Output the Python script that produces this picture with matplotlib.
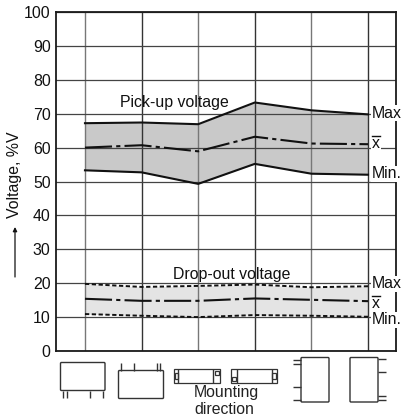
#! /usr/bin/env python3

import matplotlib
matplotlib.use('Agg')
import matplotlib.pyplot as plt
from matplotlib.patches import FancyBboxPatch, Rectangle

plt.rcParams['font.family'] = ['Liberation Sans', 'DejaVu Sans']
plt.rcParams['font.size'] = 11.4

# mounting positions
positions = [0, 1, 2, 3, 4, 5]
y_ticks = [0, 10, 20, 30, 40, 50, 60, 70, 80, 90, 100]

pickup_max = [67.2, 67.4, 66.9, 73.3, 71.0, 69.8]
pickup_mean = [60.0, 60.7, 58.9, 63.2, 61.2, 61.0]
pickup_min = [53.3, 52.7, 49.3, 55.2, 52.3, 52.0]

dropout_max = [19.8, 18.9, 19.2, 19.6, 18.8, 19.1]
dropout_mean = [15.4, 14.8, 14.8, 15.5, 15.1, 14.7]
dropout_min = [10.9, 10.4, 10.0, 10.6, 10.4, 10.1]

W, H = 403, 418
L, R, T, B = 55.5, 396, 12, 351

fig = plt.figure(figsize=(W / 100, H / 100), dpi=100)
ax = fig.add_axes([L / W, 1 - B / H, (R - L) / W, (B - T) / H])
ax.set_xlim(-29.5 / 56.67, 5 + 28 / 56.67)
ax.set_ylim(0, 100)
ax.set_xticks(positions)
ax.set_xticklabels([])
ax.set_yticks(y_ticks)
ax.tick_params(length=0, pad=3.5, labelcolor='#111111')
for s in ax.spines.values():
    s.set_linewidth(1.3)
    s.set_color('#1a1a1a')
ax.grid(axis='y', color='#444444', lw=0.9, zorder=1)
for i, p in enumerate(positions):
    ax.axvline(p, color='#777777' if i % 2 == 0 else '#333333', lw=1.0, zorder=1)

ax.fill_between(positions, pickup_min, pickup_max, color='#c9c9c9', zorder=0.5, lw=0)
ax.fill_between(positions, dropout_min, dropout_max, color='#e4e4e4', zorder=0.5, lw=0)

ax.plot(positions, pickup_max, color='#111111', lw=1.5, zorder=3)
ax.plot(positions, pickup_min, color='#111111', lw=1.5, zorder=3)
ax.plot(positions, pickup_mean, color='#111111', lw=1.5, zorder=3,
        dashes=(13, 2, 2, 2))
ax.plot(positions, dropout_max, color='#111111', lw=1.4, zorder=3, dashes=(2.2, 1.3))
ax.plot(positions, dropout_min, color='#111111', lw=1.4, zorder=3, dashes=(2.2, 1.3))
ax.plot(positions, dropout_mean, color='#111111', lw=1.5, zorder=3,
        dashes=(13, 2, 2, 2))

# overlay in pixel coordinates for labels and the relay sketches
ov = fig.add_axes([0, 0, 1, 1], facecolor='none')
ov.set_xlim(0, W)
ov.set_ylim(H, 0)
ov.axis('off')

tc = '#111111'
bg = dict(facecolor='white', edgecolor='none', pad=0.5)
ov.text(174.5, 103, 'Pick-up voltage', ha='center', va='center', color=tc)
ov.text(232, 274, 'Drop-out voltage', ha='center', va='center', color=tc)
for y, s in [(113, 'Max'), (174, 'Min.'), (284, 'Max'), (320, 'Min.')]:
    ov.text(372, y, s, ha='left', va='center', color=tc, bbox=bg)
for y in (143, 303):
    ov.text(372, y, 'x', ha='left', va='center', color=tc, bbox=bg)
    ov.plot([372, 380], [y - 7, y - 7], color=tc, lw=1.0, zorder=5)

ov.text(15, 175, 'Voltage, %V', rotation=90, ha='center', va='center', color=tc)
ov.annotate('', xy=(15, 227), xytext=(15, 277),
            arrowprops=dict(arrowstyle='-|>', color=tc, lw=0.9, mutation_scale=6,
                            shrinkA=0, shrinkB=0))

ov.text(226.5, 393, 'Mounting', ha='center', va='center', color='#222222')
ov.text(224, 409, 'direction', ha='center', va='center', color='#222222')

c = '#333333'


def box(x0, y0, x1, y1):
    ov.add_patch(FancyBboxPatch((x0 + 1, y0 + 1), x1 - x0 - 2, y1 - y0 - 2,
                                boxstyle='round,pad=1,rounding_size=1',
                                fill=False, ec=c, lw=1.0))


def small(x0, y0, x1, y1):
    ov.add_patch(Rectangle((x0, y0), x1 - x0, y1 - y0, fill=False, ec=c, lw=0.9))


def seg(x0, y0, x1, y1):
    ov.plot([x0, x1], [y0, y1], color=c, lw=1.0, solid_capstyle='butt')


# relay 1, pins down
box(60.5, 362.5, 105, 390.5)
for x in (62.5, 66.5, 90, 103):
    seg(x, 390.5, x, 398)
# relay 2, pins up
box(118.5, 370.5, 163.5, 398.5)
for x in (120.5, 133.5, 157, 160):
    seg(x, 370.5, x, 363)
# relay 3, flat
small(174, 369, 220, 382.5)
seg(178, 369, 178, 382.5)
seg(213, 369, 213, 382.5)
small(175, 373, 178, 379)
small(214.5, 370.5, 218.5, 374.5)
# relay 4, flat
small(230.5, 369, 276.5, 382.5)
seg(237, 369, 237, 382.5)
seg(272, 369, 272, 382.5)
small(232, 376.5, 236, 380.5)
small(272, 373, 276, 379)
# relay 5, pins left
box(301, 357.5, 329, 402)
for y in (360, 364, 387, 400):
    seg(293, y, 301, y)
# relay 6, pins right
box(350, 357.5, 378, 402)
for y in (359, 372, 396, 399.5):
    seg(378, y, 386, y)

plt.savefig('out.png', dpi=100)
